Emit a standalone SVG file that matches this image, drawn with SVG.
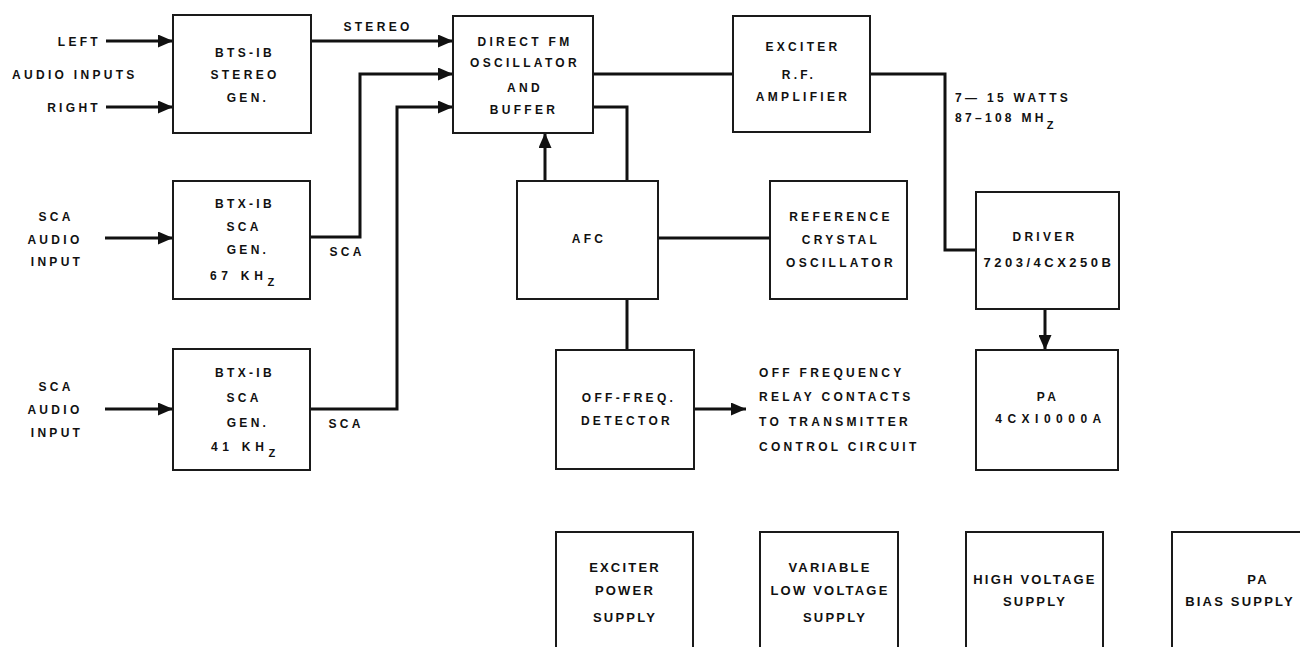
<svg xmlns="http://www.w3.org/2000/svg" width="1300" height="647" viewBox="0 0 1300 647">
<style>
.box{fill:#fff;stroke:#1a1a1a;stroke-width:2}
.c{fill:none;stroke:#111;stroke-width:3}
text{font-family:"Liberation Sans",Arial,sans-serif;font-weight:bold;font-size:12px;letter-spacing:3.3px;fill:#111}
.m{text-anchor:middle}
.e{text-anchor:end}
.s{font-size:13px;letter-spacing:2.2px}
.sub{font-size:11px;letter-spacing:0}
.w{letter-spacing:4.7px}
</style>
<defs>
<marker id="ah" markerUnits="userSpaceOnUse" markerWidth="15" markerHeight="13" refX="15" refY="6.5" orient="auto">
<path d="M0,0 L15,6.5 L0,13 z" fill="#111"/>
</marker>
</defs>
<rect width="1300" height="647" fill="#fff"/>

<g id="connectors">
<path class="c" d="M106,41 H173" marker-end="url(#ah)"/>
<path class="c" d="M106,107 H173" marker-end="url(#ah)"/>
<path class="c" d="M311,41 H453" marker-end="url(#ah)"/>
<path class="c" d="M310,237 H360 V74 H453" marker-end="url(#ah)"/>
<path class="c" d="M310,409 H397 V107 H453" marker-end="url(#ah)"/>
<path class="c" d="M105,238 H173" marker-end="url(#ah)"/>
<path class="c" d="M105,409 H173" marker-end="url(#ah)"/>
<path class="c" d="M593,74 H733"/>
<path class="c" d="M870,74 H945 V250 H976"/>
<path class="c" d="M545,181 V133" marker-end="url(#ah)"/>
<path class="c" d="M593,107 H627 V181"/>
<path class="c" d="M658,238 H770"/>
<path class="c" d="M627,299 V350"/>
<path class="c" d="M694,409 H746" marker-end="url(#ah)"/>
<path class="c" d="M1045,309 V350" marker-end="url(#ah)"/>
</g>

<g id="labels">
<text class="e" x="101" y="46">LEFT</text>
<text x="12" y="79">AUDIO INPUTS</text>
<text class="e" x="101" y="112">RIGHT</text>
<text class="m" x="378" y="31">STEREO</text>
<text class="m" x="347" y="256">SCA</text>
<text class="m" x="346" y="428">SCA</text>
<text class="m" x="56" y="221">SCA</text>
<text class="m" x="55" y="244">AUDIO</text>
<text class="m" x="57" y="266">INPUT</text>
<text class="m" x="56" y="391">SCA</text>
<text class="m" x="55" y="414">AUDIO</text>
<text class="m" x="57" y="437">INPUT</text>
<text x="955" y="102">7— 15 WATTS</text>
<text x="955" y="122">87–108 MH<tspan class="sub" dy="7">Z</tspan></text>
<text x="759" y="377">OFF FREQUENCY</text>
<text x="759" y="401">RELAY CONTACTS</text>
<text x="759" y="426">TO TRANSMITTER</text>
<text x="759" y="451">CONTROL CIRCUIT</text>
</g>

<g id="bts">
<rect class="box" x="173" y="15" width="138" height="118"/>
<text class="m" x="245" y="57">BTS-IB</text>
<text class="m" x="245" y="79">STEREO</text>
<text class="m" x="248" y="102">GEN.</text>
</g>

<g id="btx1">
<rect class="box" x="173" y="181" width="137" height="118"/>
<text class="m" x="245" y="208">BTX-IB</text>
<text class="m" x="244" y="231">SCA</text>
<text class="m" x="248" y="254">GEN.</text>
<text class="w" x="210" y="280">67 KH<tspan class="sub" dy="6">Z</tspan></text>
</g>

<g id="btx2">
<rect class="box" x="173" y="349" width="137" height="121"/>
<text class="m" x="245" y="377">BTX-IB</text>
<text class="m" x="244" y="402">SCA</text>
<text class="m" x="248" y="427">GEN.</text>
<text class="w" x="211" y="451">41 KH<tspan class="sub" dy="6">Z</tspan></text>
</g>

<g id="fm">
<rect class="box" x="453" y="16" width="140" height="117"/>
<text class="m" x="525" y="46">DIRECT FM</text>
<text class="m" x="525" y="67">OSCILLATOR</text>
<text class="m" x="525" y="92">AND</text>
<text class="m" x="524" y="114">BUFFER</text>
</g>

<g id="exciter">
<rect class="box" x="733" y="16" width="137" height="116"/>
<text class="m" x="803" y="51">EXCITER</text>
<text class="m" x="799" y="79">R.F.</text>
<text class="m" x="803" y="101">AMPLIFIER</text>
</g>

<g id="afc">
<rect class="box" x="517" y="181" width="141" height="118"/>
<text class="m" x="589" y="243">AFC</text>
</g>

<g id="reference">
<rect class="box" x="770" y="181" width="137" height="118"/>
<text class="m" x="841" y="221">REFERENCE</text>
<text class="m" x="841" y="244">CRYSTAL</text>
<text class="m" x="841" y="267">OSCILLATOR</text>
</g>

<g id="offfreq">
<rect class="box" x="556" y="350" width="138" height="119"/>
<text class="m" x="629" y="402">OFF-FREQ.</text>
<text class="m" x="627" y="425">DETECTOR</text>
</g>

<g id="driver">
<rect class="box" x="976" y="192" width="143" height="117"/>
<text class="m" x="1045" y="241">DRIVER</text>
<text class="m" x="1049" y="267" style="font-size:13px;letter-spacing:3.5px">7203/4CX250B</text>
</g>

<g id="pa">
<rect class="box" x="976" y="350" width="142" height="120"/>
<text class="m" x="1048" y="401">PA</text>
<text class="m" x="1051" y="423" style="letter-spacing:5.5px">4CXI0000A</text>
</g>

<g id="exciter-ps">
<rect class="box" x="556" y="532" width="137" height="130"/>
<text class="m s" x="625" y="572">EXCITER</text>
<text class="m s" x="625" y="595">POWER</text>
<text class="m s" x="625" y="622">SUPPLY</text>
</g>

<g id="lv-ps">
<rect class="box" x="760" y="532" width="138" height="130"/>
<text class="m s" x="830" y="572">VARIABLE</text>
<text class="m s" x="830" y="595">LOW VOLTAGE</text>
<text class="m s" x="835" y="622">SUPPLY</text>
</g>

<g id="hv-ps">
<rect class="box" x="966" y="532" width="137" height="130"/>
<text class="m s" x="1035" y="584">HIGH VOLTAGE</text>
<text class="m s" x="1035" y="606">SUPPLY</text>
</g>

<g id="bias-ps">
<rect class="box" x="1172" y="532" width="140" height="130"/>
<text class="m s" x="1258" y="584">PA</text>
<text class="m s" x="1240" y="606">BIAS SUPPLY</text>
</g>
</svg>
